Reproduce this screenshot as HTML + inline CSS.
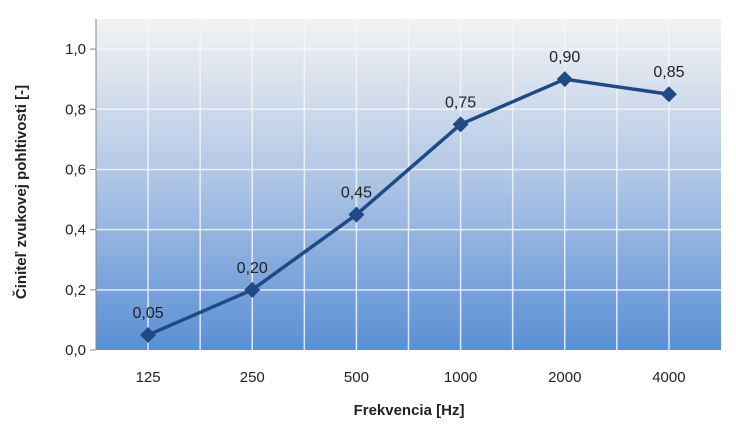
<!DOCTYPE html>
<html><head><meta charset="utf-8"><style>
body{margin:0;background:#fff;}
svg text{font-family:"Liberation Sans",sans-serif;}
</style></head><body>
<svg width="736" height="443" xmlns="http://www.w3.org/2000/svg">
<defs><linearGradient id="bg" x1="0" y1="0" x2="0" y2="1">
<stop offset="0" stop-color="#f3f3f3"/><stop offset="0.45" stop-color="#b4c9e6"/><stop offset="1" stop-color="#5a8fd5"/></linearGradient></defs>
<rect x="96" y="19" width="625" height="331" fill="url(#bg)"/>
<g id="grid"></g>
<g id="axes"></g>
<g id="series"></g>
<text x="18" y="184" transform="rotate(-90 26 184)" font-size="15" font-weight="bold" fill="#222" text-anchor="middle" dx="0">Činiteľ zvukovej pohltivosti  [-]</text>
<text x="409" y="415" font-size="15" font-weight="bold" fill="#222" text-anchor="middle">Frekvencia [Hz]</text>
</svg>
<script>
const categories=["125","250","500","1000","2000","4000"];
const values=[0.05,0.20,0.45,0.75,0.90,0.85];
const valueLabels=["0,05","0,20","0,45","0,75","0,90","0,85"];
const yTicks=[0,0.2,0.4,0.6,0.8,1.0];
const yTickLabels=["0,0","0,2","0,4","0,6","0,8","1,0"];
const NS="http://www.w3.org/2000/svg";
const L=96,R=721,T=19,B=350,YMAX=1.1;
const bw=(R-L)/categories.length;
function x(i){return L+bw*(i+0.5);}
function y(v){return B-(v/YMAX)*(B-T);}
function mk(t,a,p){const e=document.createElementNS(NS,t);for(const k in a)e.setAttribute(k,a[k]);p.appendChild(e);return e;}
const g=document.getElementById('grid'),ax=document.getElementById('axes'),s=document.getElementById('series');
for(let k=1;k<categories.length*2;k++){const xx=L+bw*k/2;
const ln=mk('line',{x1:xx,x2:xx,y1:T,y2:B,stroke:'#f4f7fc','stroke-width':1.5,opacity:0.85},g);

}
yTicks.forEach((v,i)=>{const yy=y(v);
if(v>0){const ln=mk('line',{x1:L,x2:R,y1:yy,y2:yy,stroke:'#f4f7fc','stroke-width':1.5,opacity:0.85},g);

}
mk('line',{x1:L-6,x2:L,y1:yy,y2:yy,stroke:'#888'},ax);
const t=mk('text',{x:L-10,y:yy+5,'font-size':15,fill:'#222','text-anchor':'end'},ax);t.textContent=yTickLabels[i];

});
mk('line',{x1:L,x2:L,y1:T,y2:B,stroke:'#888'},ax);
categories.forEach((c,i)=>{const t=mk('text',{x:x(i),y:B+32,'font-size':15,fill:'#222','text-anchor':'middle'},ax);t.textContent=c;

});
const pl=mk('polyline',{points:values.map((v,i)=>x(i)+','+y(v)).join(' '),fill:'none',stroke:'#1f4a85','stroke-width':3.5,'stroke-linejoin':'round'},s);


values.forEach((v,i)=>{const cx=x(i),cy=y(v);
const m=mk('polygon',{points:`${cx},${cy-8} ${cx+8},${cy} ${cx},${cy+8} ${cx-8},${cy}`,fill:'#1f4a85'},s);


const t=mk('text',{x:cx,y:cy-17,'font-size':16,fill:'#222','text-anchor':'middle'},s);t.textContent=valueLabels[i];

});
</script>
</body></html>
